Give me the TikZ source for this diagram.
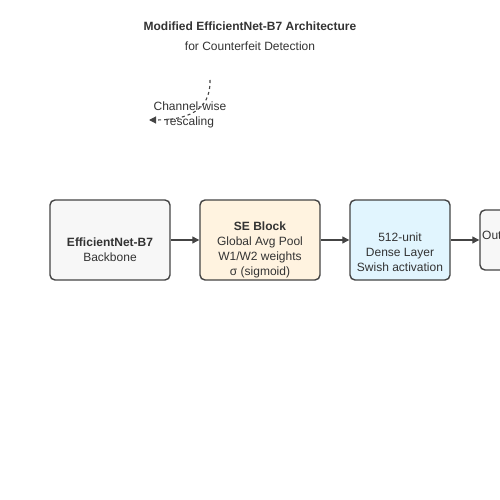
\documentclass[tikz,border=0pt]{standalone}
\usepackage{fontspec}
\setmainfont{Liberation Sans}
\usepackage{tikz}
\usetikzlibrary{arrows.meta}
\definecolor{inkgray}{HTML}{333333}
\definecolor{edgegray}{HTML}{444444}
\definecolor{greyfill}{HTML}{F7F7F7}
\definecolor{creamfill}{HTML}{FFF3E0}
\definecolor{bluefill}{HTML}{E1F5FE}
\tikzset{
	block/.style={draw=edgegray, line width=1.4pt, rounded corners=5pt, inner sep=0pt},
	blocktext/.style={align=center, text=inkgray, inner sep=0pt},
	flow/.style={draw=edgegray, line width=1.2pt, -{Triangle[length=7pt,width=7pt]}},
}

\begin{document}
\begin{tikzpicture}[x=1pt, y=-1pt, font=\fontsize{12}{15}\selectfont]
		%%%%% START %%%%%
		\useasboundingbox (0,0) rectangle (500,500);
		\clip (0,0) rectangle (500,500);
		
		\node[text=inkgray, font=\fontsize{12}{15}\selectfont\bfseries] (title) at (250,26) {Modified EfficientNet-B7 Architecture};
		\node[text=inkgray] (subtitle) at (250,46) {for Counterfeit Detection};
		
		\node[block, fill=greyfill, minimum width=120pt, minimum height=80pt] (backbone) at (110,240) {};
		\node[block, fill=creamfill, minimum width=120pt, minimum height=80pt] (se) at (260,240) {};
		\node[block, fill=bluefill, minimum width=100pt, minimum height=80pt] (dense) at (400,240) {};
		\node[block, fill=greyfill, minimum width=80pt, minimum height=60pt] (out) at (520,240) {};
		
		\node[blocktext] (backboneText) at (110,250) {\textbf{EfficientNet-B7}\\Backbone};
		\node[blocktext] (seText) at (260,250) {\textbf{SE Block}\\Global Avg Pool\\W1/W2 weights\\σ (sigmoid)};
		\node[blocktext] (denseText) at (400,252) {512-unit\\Dense Layer\\Swish activation};
		\node[blocktext, anchor=west] (outText) at (482,237) {Output};
		
		\draw[flow] (backbone) -- (se);
		\draw[flow] (se) -- (dense);
		\draw[flow] (dense) -- (out);
		
		\node[blocktext] (scale) at (190,115) {Channel-wise\\rescaling};
		\coordinate (seTop) at (210,80);
		\coordinate (seEnd) at (149,120);
		\draw[edgegray, line width=1.1pt, dashed, -{Triangle[length=7pt,width=7pt]}] (seTop) .. controls (211,112) and (185,120) .. (seEnd);
		
		%%%%% END %%%%%
	\end{tikzpicture}
\end{document}
